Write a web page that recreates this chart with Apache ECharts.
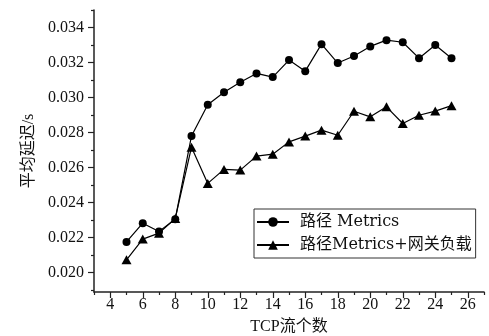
<!DOCTYPE html>
<html><head><meta charset="utf-8">
<script src="https://cdn.jsdelivr.net/npm/echarts@6/dist/echarts.min.js"></script>
<style>html,body{margin:0;padding:0;background:#fff}#c{width:489px;height:336px}</style>
</head><body><div id="c"></div>
<script>
const tcpFlows = [5,6,7,8,9,10,11,12,13,14,15,16,17,18,19,20,21,22,23,24,25];
const metricsDelay = [0.02176,0.02283,0.02235,0.02306,0.02781,0.02959,0.03030,0.03088,0.03138,0.03117,0.03214,0.03151,0.03305,0.03197,0.03237,0.03292,0.03328,0.03316,0.03225,0.03300,0.03225];
const metricsGatewayDelay = [0.02074,0.02192,0.02226,0.02310,0.02717,0.02510,0.02590,0.02586,0.02666,0.02677,0.02747,0.02780,0.02814,0.02785,0.02922,0.02890,0.02947,0.02852,0.02899,0.02923,0.02954];
const xMajorTicks = [4,6,8,10,12,14,16,18,20,22,24,26];
const xMinorTicks = [3,5,7,9,11,13,15,17,19,21,23,25,27];
const yMajorTicks = [0.020,0.022,0.024,0.026,0.028,0.030,0.032,0.034];
const yMinorTicks = [0.019,0.021,0.023,0.025,0.027,0.029,0.031,0.033,0.035];
const seriesNames = ['路径 Metrics','路径Metrics+网关负载'];

const FONT = '"Liberation Serif","Noto Sans CJK SC",serif';
const LFONT = '"DejaVu Serif","Noto Sans CJK SC",serif';
const AX = '#222';
const chart = echarts.init(document.getElementById('c'), null, {renderer:'canvas'});
const xBase = {type:'value', min:3, max:27, gridIndex:0};
const yBase = {type:'value', min:0.0189, max:0.035, gridIndex:0};
chart.setOption({
  animation:false,
  backgroundColor:'#fff',
  grid:{left:94, right:5, top:10, bottom:44, containLabel:false, outerBoundsMode:'none'},
  legend:{
    orient:'vertical', left:254, top:209,
    borderColor:'#333', borderWidth:1, borderRadius:0,
    padding:[5,4,5,2], itemWidth:32, itemHeight:12, itemGap:7,
    textStyle:{fontFamily:LFONT, fontSize:16, color:'#111', padding:[0,0,0,6]},
    data:seriesNames
  },
  xAxis:[
    Object.assign({}, xBase, {
      name:'TCP流个数', nameLocation:'middle', nameGap:27,
      nameTextStyle:{fontFamily:FONT, fontSize:16, color:'#111'},
      axisLine:{show:true, lineStyle:{color:AX, width:1.5}},
      axisTick:{show:true, inside:false, length:6, lineStyle:{color:AX, width:1.2}, customValues:xMajorTicks},
      axisLabel:{fontFamily:FONT, fontSize:16, color:'#111', margin:5, customValues:xMajorTicks},
      splitLine:{show:false}
    }),
    Object.assign({}, xBase, {
      position:'bottom',
      axisLine:{show:false},
      axisTick:{show:true, length:3, lineStyle:{color:AX, width:1.2}, customValues:xMinorTicks},
      axisLabel:{show:false, customValues:xMinorTicks},
      splitLine:{show:false}
    })
  ],
  yAxis:[
    Object.assign({}, yBase, {
      name:'平均延迟/s', nameLocation:'middle', nameGap:57,
      nameTextStyle:{fontFamily:FONT, fontSize:16, color:'#111'},
      axisLine:{show:true, lineStyle:{color:AX, width:1.5}},
      axisTick:{show:true, length:6, lineStyle:{color:AX, width:1.2}, customValues:yMajorTicks},
      axisLabel:{fontFamily:FONT, fontSize:16, color:'#111', margin:10, customValues:yMajorTicks,
        formatter:v=>v.toFixed(3)},
      splitLine:{show:false}
    }),
    Object.assign({}, yBase, {
      position:'left',
      axisLine:{show:false},
      axisTick:{show:true, length:3, lineStyle:{color:AX, width:1.2}, customValues:yMinorTicks},
      axisLabel:{show:false, customValues:yMinorTicks},
      splitLine:{show:false}
    })
  ],
  series:[
    {name:seriesNames[0], type:'line', xAxisIndex:0, yAxisIndex:0,
     data:tcpFlows.map((x,i)=>[x, metricsDelay[i]]),
     symbol:'circle', symbolSize:8, color:'#000',
     lineStyle:{color:'#000', width:1.2}, itemStyle:{color:'#000'}},
    {name:seriesNames[1], type:'line', xAxisIndex:0, yAxisIndex:0,
     data:tcpFlows.map((x,i)=>[x, metricsGatewayDelay[i]]),
     symbol:'triangle', symbolSize:[10,9], color:'#000',
     lineStyle:{color:'#000', width:1.2}, itemStyle:{color:'#000'}}
  ]
});
</script></body></html>
